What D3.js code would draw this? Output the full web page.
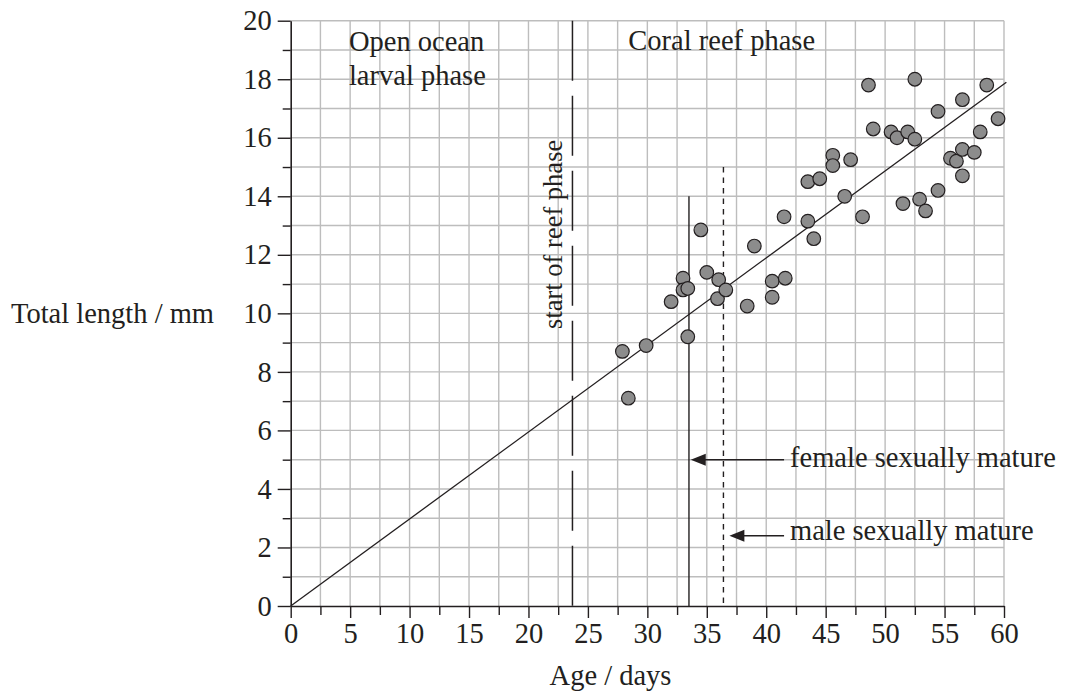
<!DOCTYPE html>
<html>
<head>
<meta charset="utf-8">
<script src="https://cdn.jsdelivr.net/npm/d3@7/dist/d3.min.js"></script>
<style>
  body { margin: 0; background: #fff; }
  text { font-family: "Liberation Serif", "Times New Roman", serif; fill: #231f20; }
</style>
</head>
<body>
<div id="chart"></div>
<script>
// fish ages (days) and total lengths (mm)
var ages    = [27.9, 28.4, 29.9, 32.0, 33.0, 33.0, 33.4, 33.4, 34.5, 35.0,
               36.0, 35.9, 36.6, 38.4, 39.0, 40.5, 40.5, 41.6, 41.5, 43.5,
               44.0, 43.5, 44.5, 45.6, 45.6, 47.1, 46.6, 48.1, 48.6, 49.0,
               50.5, 51.0, 51.9, 52.5, 52.5, 51.5, 52.9, 53.4, 54.45, 54.45,
               55.5, 56.0, 56.5, 56.5, 56.5, 57.5, 58.0, 58.55, 59.5]
  , lengths = [8.7, 7.1, 8.9, 10.4, 11.2, 10.8, 10.85, 9.2, 12.85, 11.4,
               11.15, 10.5, 10.8, 10.25, 12.3, 11.1, 10.55, 11.2, 13.3, 13.15,
               12.55, 14.5, 14.6, 15.4, 15.05, 15.25, 14.0, 13.3, 17.8, 16.3,
               16.2, 16.0, 16.2, 15.95, 18.0, 13.75, 13.9, 13.5, 14.2, 16.9,
               15.3, 15.2, 15.6, 14.7, 17.3, 15.5, 16.2, 17.8, 16.65]
  ;

// best fit line end points
var fitAges    = [0, 60.2]
  , fitLengths = [0, 17.9]
  ;

// ticks
var xTicks = [0, 5, 10, 15, 20, 25, 30, 35, 40, 45, 50, 55, 60]
  , yTicks = [0, 2, 4, 6, 8, 10, 12, 14, 16, 18, 20]
  ;

// marker lines: start of reef phase, female mature, male mature
var reefStart  = 23.7
  , femaleAge  = 33.5
  , femaleTop  = 14
  , maleAge    = 36.4
  , maleTop    = 15
  ;

// arrows pointing at the maturity lines [tipAge, tailAge, length]
var arrows = [
  [33.65, 41.5, 5.0],
  [36.9, 41.5, 2.4]
];

var notes = [
  { text: "Open ocean",             age: 4.9,  len: 18.98 },
  { text: "larval phase",           age: 4.9,  len: 17.8 },
  { text: "Coral reef phase",       age: 28.4, len: 19.0 },
  { text: "female sexually mature", age: 42.0, len: 4.75 },
  { text: "male sexually mature",   age: 42.0, len: 2.25 }
];

var width = 1067
  , height = 693
  , svg = d3.select("#chart").append("svg")
      .attr("width", width)
      .attr("height", height)
  , x = d3.scaleLinear().domain([0, 60]).range([290.7, 1004])
  , y = d3.scaleLinear().domain([0, 20]).range([606, 20.7])
  , gridColor = "#bdbdbd"
  , ink = "#231f20"
  ;

// grid
svg.append("g").selectAll("line").data(d3.range(2.5, 60.01, 2.5))
  .enter().append("line")
    .attr("x1", function (d) { return x(d); })
    .attr("x2", function (d) { return x(d); })
    .attr("y1", y(0))
    .attr("y2", y(20))
    .attr("stroke", gridColor)
    .attr("stroke-width", 1.4);

svg.append("g").selectAll("line").data(d3.range(1, 20.01, 1))
  .enter().append("line")
    .attr("x1", x(0))
    .attr("x2", x(60))
    .attr("y1", function (d) { return y(d); })
    .attr("y2", function (d) { return y(d); })
    .attr("stroke", gridColor)
    .attr("stroke-width", 1.4);

// minor ticks
svg.append("g")
  .attr("transform", "translate(0," + y(0) + ")")
  .call(d3.axisBottom(x).tickValues(d3.range(2.5, 60, 5)).tickSize(9).tickFormat("").tickSizeOuter(0))
  .call(function (g) { g.select(".domain").remove(); });

svg.append("g")
  .attr("transform", "translate(" + x(0) + ",0)")
  .call(d3.axisLeft(y).tickValues(d3.range(1, 20, 2)).tickSize(8).tickFormat("").tickSizeOuter(0))
  .call(function (g) { g.select(".domain").remove(); });

// major axes
var xAxis = svg.append("g")
  .attr("transform", "translate(0," + y(0) + ")")
  .call(d3.axisBottom(x).tickValues(xTicks).tickSize(12).tickPadding(5).tickSizeOuter(0));

var yAxis = svg.append("g")
  .attr("transform", "translate(" + x(0) + ",0)")
  .call(d3.axisLeft(y).tickValues(yTicks).tickSize(13).tickPadding(6).tickSizeOuter(0));

svg.selectAll(".tick line").attr("stroke", ink).attr("stroke-width", 1.4);
svg.selectAll(".domain").attr("stroke", ink).attr("stroke-width", 1.6);
svg.selectAll(".tick text")
  .attr("fill", ink)
  .style("font-family", "'Liberation Serif', 'Times New Roman', serif")
  .style("font-size", "28.5px");

// axis titles
svg.append("text")
  .attr("x", 11)
  .attr("y", 323)
  .style("font-size", "28.5px")
  .text("Total length / mm");

svg.append("text")
  .attr("x", 610.5)
  .attr("y", 685)
  .attr("text-anchor", "middle")
  .style("font-size", "28.5px")
  .text("Age / days");

// start of reef phase line
svg.append("line")
  .attr("x1", x(reefStart))
  .attr("x2", x(reefStart))
  .attr("y1", y(20))
  .attr("y2", y(0))
  .attr("stroke", ink)
  .attr("stroke-width", 1.5)
  .attr("stroke-dasharray", "60,15");

svg.append("text")
  .attr("transform", "translate(" + (x(reefStart) - 10) + "," + y(12.7) + ") rotate(-90)")
  .attr("text-anchor", "middle")
  .style("font-size", "26.5px")
  .text("start of reef phase");

// maturity lines
svg.append("line")
  .attr("x1", x(femaleAge))
  .attr("x2", x(femaleAge))
  .attr("y1", y(femaleTop))
  .attr("y2", y(0))
  .attr("stroke", ink)
  .attr("stroke-width", 1.4);

svg.append("line")
  .attr("x1", x(maleAge))
  .attr("x2", x(maleAge))
  .attr("y1", y(maleTop))
  .attr("y2", y(0))
  .attr("stroke", ink)
  .attr("stroke-width", 1.4)
  .attr("stroke-dasharray", "5.5,5");

// fit line
svg.append("path")
  .datum(d3.zip(fitAges, fitLengths))
  .attr("d", d3.line()
    .x(function (d) { return x(d[0]); })
    .y(function (d) { return y(d[1]); }))
  .attr("fill", "none")
  .attr("stroke", ink)
  .attr("stroke-width", 1.3);

// arrows
var arrow = svg.append("g").selectAll("g").data(arrows)
  .enter().append("g");

arrow.append("line")
  .attr("x1", function (d) { return x(d[1]); })
  .attr("x2", function (d) { return x(d[0]) + 10; })
  .attr("y1", function (d) { return y(d[2]); })
  .attr("y2", function (d) { return y(d[2]); })
  .attr("stroke", ink)
  .attr("stroke-width", 1.4);

arrow.append("path")
  .attr("d", function (d) {
    var tx = x(d[0]), ty = y(d[2]);
    return "M" + tx + "," + ty + "L" + (tx + 15) + "," + (ty - 6) + "L" + (tx + 15) + "," + (ty + 6) + "Z";
  })
  .attr("fill", ink);

// notes
svg.append("g").selectAll("text").data(notes)
  .enter().append("text")
    .attr("x", function (d) { return x(d.age); })
    .attr("y", function (d) { return y(d.len); })
    .style("font-size", "28.5px")
    .text(function (d) { return d.text; });

// points
svg.append("g").selectAll("circle").data(d3.zip(ages, lengths))
  .enter().append("circle")
    .attr("cx", function (d) { return x(d[0]); })
    .attr("cy", function (d) { return y(d[1]); })
    .attr("r", 6.8)
    .attr("fill", "#8c8c8c")
    .attr("stroke", ink)
    .attr("stroke-width", 1.2);
</script>
</body>
</html>
